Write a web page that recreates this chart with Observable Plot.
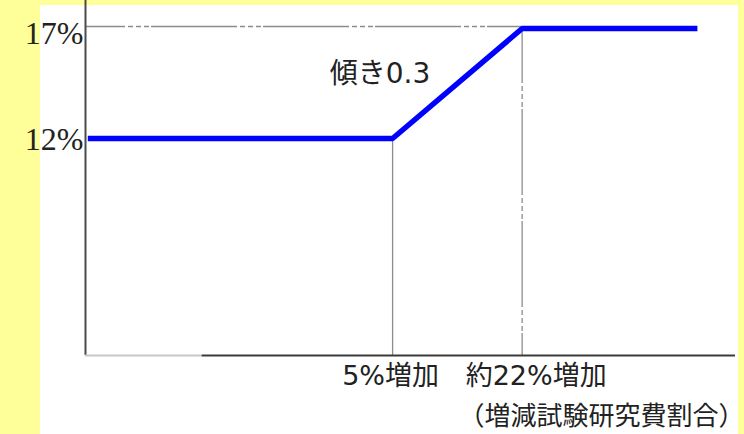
<!DOCTYPE html>
<html>
<head>
<meta charset="utf-8">
<script src="https://cdn.jsdelivr.net/npm/d3@7"></script>
<script src="https://cdn.jsdelivr.net/npm/@observablehq/plot@0.6"></script>
<style>
  html, body { margin: 0; padding: 0; width: 744px; height: 434px; overflow: hidden; background: #FFFF99; }
  #white { position: absolute; left: 40px; top: 5px; width: 698px; height: 429px; background: #fff; }
  #chart { position: absolute; left: 0; top: 0; }
</style>
</head>
<body>
<div id="white"></div>
<div id="chart"></div>
<script>
// Data
const increase = [-35, 5, 22, 45];          // x: increase in test & research cost ratio (schematic)
const rate = [12, 12, 17, 17];              // y: credit rate (%)
const yTicks = [12, 17];
const yTickLabels = ["12%", "17%"];
const xTicks = [5, 22];
const xTickLabels = ["5%増加", "約22%増加"];
const xTitle = "（増減試験研究費割合）";
const slopeLabel = "傾き0.3";

const xMin = -35.3, xMax = 50, xSplit = -20;
const yMin = 2.136, yMax = 18.273;

const pts = increase.map((x, i) => ({x, y: rate[i]}));
const sansJP = "DejaVu Sans, Noto Sans CJK JP, sans-serif";
const dash = "86,3,5,3,5,3,5,2";

const plot = Plot.plot({
  width: 744,
  height: 434,
  marginLeft: 85,
  marginRight: 9,
  marginTop: 0,
  marginBottom: 79,
  style: {background: "transparent", overflow: "visible"},
  x: {domain: [xMin, xMax], axis: null},
  y: {domain: [yMin, yMax], axis: null},
  marks: [
    // guide lines
    Plot.ruleY([yTicks[1]], {x1: xMin, x2: xTicks[1], dy: -2, stroke: "#8c8c8c", strokeWidth: 1.3, strokeDasharray: dash, strokeDashoffset: 46}),
    Plot.ruleX([xTicks[1]], {y1: yTicks[1], y2: yMin, stroke: "#8c8c8c", strokeWidth: 1.3, strokeDasharray: dash, strokeDashoffset: 31}),
    Plot.ruleX([xTicks[0]], {y1: yTicks[0], y2: yMin, stroke: "#8c8c8c", strokeWidth: 1.3}),
    // axes
    Plot.ruleX([xMin], {y1: yMin, y2: yMax, stroke: "#4a4a4a", strokeWidth: 2}),
    Plot.ruleY([yMin], {x1: xMin, x2: xSplit, stroke: "#c8c8c8", strokeWidth: 2}),
    Plot.ruleY([yMin], {x1: xSplit, x2: xMax, stroke: "#3a3a3a", strokeWidth: 2}),
    // data line
    Plot.line(pts, {x: "x", y: "y", stroke: "#0000FF", strokeWidth: 5.5, strokeLinejoin: "miter", strokeLinecap: "butt"}),
    // y tick labels
    Plot.text([0], {x: xMin, y: yTicks[1], text: () => yTickLabels[1], textAnchor: "end", dx: -2, dy: 5, fontSize: 32, fontFamily: "Liberation Serif, serif", fill: "#222"}),
    Plot.text([0], {x: xMin, y: yTicks[0], text: () => yTickLabels[0], textAnchor: "end", dx: -2, dy: 1, fontSize: 32, fontFamily: "Liberation Serif, serif", fill: "#222"}),
    // x tick labels
    Plot.text([0], {x: xTicks[0], y: yMin, text: () => xTickLabels[0], dx: -2, dy: 21, fontSize: 27, fontFamily: sansJP, fill: "#222"}),
    Plot.text([0], {x: xTicks[1], y: yMin, text: () => xTickLabels[1], dx: 14, dy: 21, fontSize: 27, fontFamily: sansJP, fill: "#222"}),
    // x title
    Plot.text([0], {x: xMax, y: yMin, text: () => xTitle, textAnchor: "end", dx: 9, dy: 61, fontSize: 26, fontFamily: sansJP, fill: "#222"}),
    // slope annotation
    Plot.text([0], {x: 3.35, y: 14.95, text: () => slopeLabel, fontSize: 28, fontFamily: sansJP, fill: "#222"})
  ]
});
document.getElementById("chart").appendChild(plot);
</script>
</body>
</html>
